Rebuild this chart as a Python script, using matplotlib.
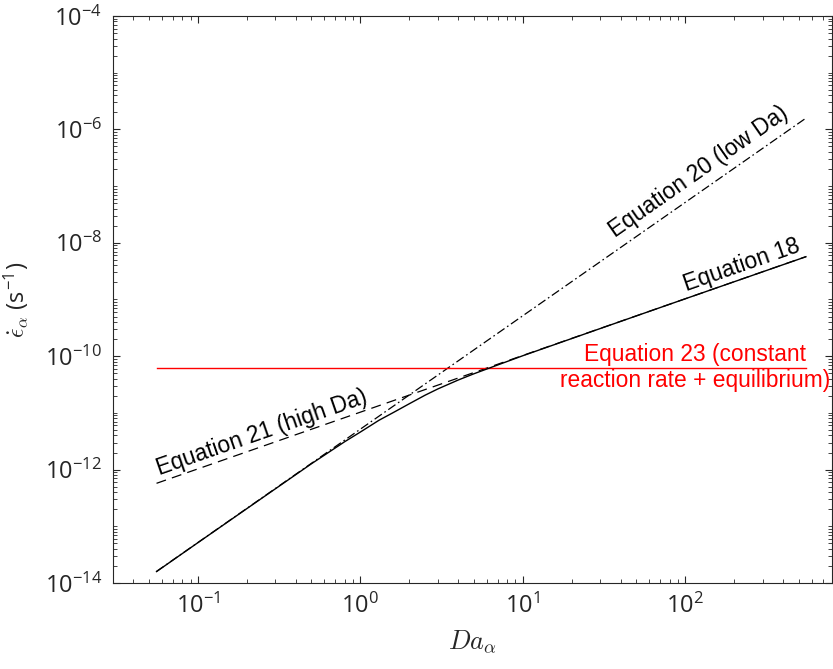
import matplotlib
matplotlib.use("Agg")
import matplotlib.pyplot as plt
import matplotlib.ticker as mticker
import numpy as np

# values
da_ends = [0.0556, 553]
eq20_rate = [1.60e-14, 1.58e-6]     # low Da, slope 2
eq21_rate = [5.73e-13, 5.70e-9]     # high Da, slope 1
eq23_rate = [6.2e-11, 6.2e-11]      # constant rate + equilibrium

eq18_da = [0.0556, 0.1, 0.2, 0.5, 0.8, 1.0, 1.3, 1.6, 2.0, 2.5, 3.0, 4.0,
           5.0, 7.0, 10, 30, 100, 553]
eq18_rate = [1.59e-14, 5.15e-14, 2.05e-13, 1.27e-12, 3.1e-12, 4.6e-12,
             7.4e-12, 1.02e-11, 1.45e-11, 2.05e-11, 2.65e-11, 3.8e-11,
             4.9e-11, 7.0e-11, 1.02e-10, 3.08e-10, 1.03e-9, 5.68e-9]

yticks = [1e-14, 1e-12, 1e-10, 1e-8, 1e-6, 1e-4]

plt.rcParams['font.family'] = 'Open Sans'
plt.rcParams['mathtext.fontset'] = 'cm'
plt.rcParams['axes.unicode_minus'] = False

grey = '#262626'
fig = plt.figure(figsize=(8.33, 6.69), dpi=100)
ax = fig.add_axes([113 / 833, 86 / 669, 719 / 833, 567 / 669])

ax.plot(da_ends, eq20_rate, color='k', lw=0.9, dashes=(7, 2.5, 1.3, 2.5))
ax.plot(da_ends, eq21_rate, color='k', lw=0.9, dashes=(8, 5))
ax.plot(da_ends, eq23_rate, color='red', lw=1.0)
ax.plot(eq18_da, eq18_rate, color='k', lw=1.0)

ax.set_xscale('log')
ax.set_yscale('log')
ax.set_xlim(0.03, 800)
ax.set_ylim(1e-14, 1e-4)

ax.set_yticks(yticks)
ax.yaxis.set_minor_locator(mticker.LogLocator(base=10, subs=np.arange(1, 10), numticks=50))
ax.xaxis.set_major_locator(mticker.LogLocator(base=10, numticks=20))
ax.xaxis.set_minor_locator(mticker.LogLocator(base=10, subs=np.arange(2, 10), numticks=50))
ax.yaxis.set_minor_formatter(mticker.NullFormatter())
ax.xaxis.set_minor_formatter(mticker.NullFormatter())

ax.tick_params(which='both', direction='in', top=True, right=True, colors=grey,
               labelsize=17, pad=8)
ax.tick_params(which='major', length=5, width=0.8)
ax.tick_params(which='minor', length=3, width=0.6)
for sp in ax.spines.values():
    sp.set_color(grey)
    sp.set_linewidth(0.8)

ax.set_xlabel(r'$Da_\alpha$', fontsize=19, color=grey, labelpad=6)
ax.set_ylabel(r'$\dot{\epsilon}_\alpha$ (s$^{\mathregular{-1}}$)', fontsize=17,
              color=grey, labelpad=10)

note = dict(family='Liberation Sans', fontsize=16.4, ha='center', va='center',
            rotation_mode='anchor')
ax.text(121.6, 1.77e-7, 'Equation 20 (low Da)', rotation=34.9, **note)
ax.text(223, 4.06e-9, 'Equation 18', rotation=19.2, **note)
ax.text(0.249, 4.43e-12, 'Equation 21 (high Da)', rotation=19.2, **note)
ax.text(115, 6.3e-11, 'Equation 23 (constant\nreaction rate + equilibrium)',
        color='red', multialignment='center', family='Liberation Sans',
        fontsize=16.4, ha='center', va='center')

fig.savefig('out.png', dpi=100)
